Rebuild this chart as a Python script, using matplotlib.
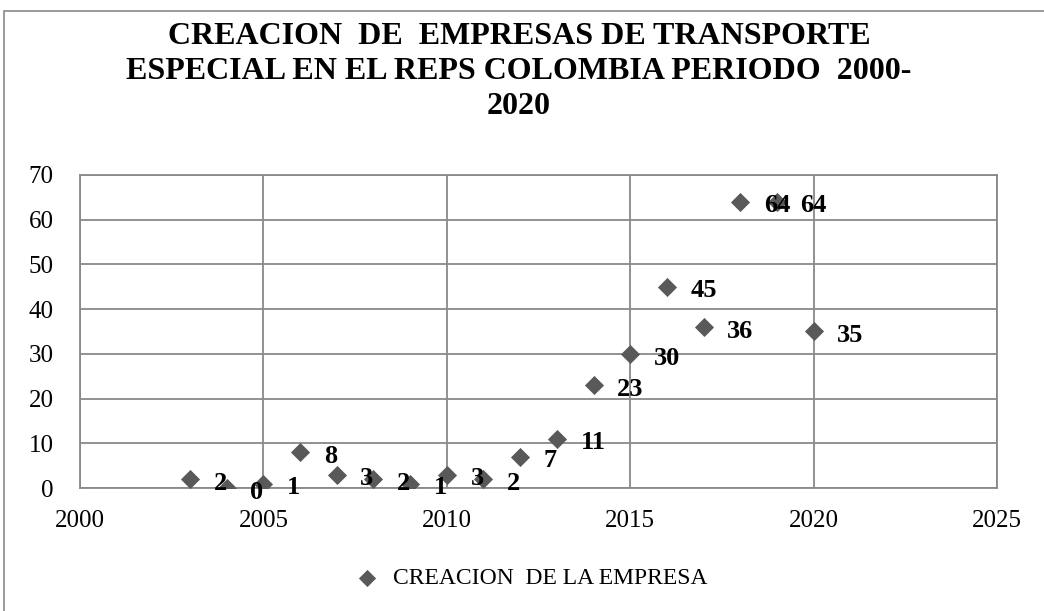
import matplotlib.pyplot as plt
from matplotlib.patches import Rectangle

# --- Data ---
years = [2003, 2004, 2005, 2006, 2007, 2008, 2009, 2010, 2011,
         2012, 2013, 2014, 2015, 2016, 2017, 2018, 2019, 2020]
empresas = [2, 0, 1, 8, 3, 2, 1, 3, 2, 7, 11, 23, 30, 45, 36, 64, 64, 35]

title = "CREACION  DE  EMPRESAS DE TRANSPORTE\nESPECIAL EN EL REPS COLOMBIA PERIODO  2000-\n2020"
serie = "CREACION  DE LA EMPRESA"

serif = 'Liberation Serif'
grid_color = '#898989'
marker_color = '#595959'

fig = plt.figure(figsize=(10.44, 6.11), dpi=100)
ax = fig.add_axes([0.0766, 0.2013, 0.8784, 0.5123])

ax.scatter(years, empresas, marker='D', s=95, color=marker_color,
           zorder=3, label=serie, linewidths=0)

for x, y in zip(years, empresas):
    ax.annotate(str(y), (x, y), xytext=(17, -3), textcoords='offset points',
                ha='left', va='center', fontsize=19, fontweight='bold',
                family=serif, zorder=4)

ax.set_xlim(2000, 2025)
ax.set_ylim(0, 70)
ax.set_xticks(range(2000, 2026, 5))
ax.set_yticks(range(0, 71, 10))
ax.grid(True, color=grid_color, linewidth=1.3)
ax.set_axisbelow(True)
for sp in ax.spines.values():
    sp.set_color(grid_color)
    sp.set_linewidth(1.3)
ax.tick_params(length=0, labelsize=18)
ax.tick_params(axis='x', pad=16)
ax.tick_params(axis='y', pad=19)
for lab in ax.get_xticklabels() + ax.get_yticklabels():
    lab.set_family(serif)

fig.text(0.497, 0.883, title, ha='center', va='center', fontsize=23,
         fontweight='bold', family=serif, linespacing=1.28)

fig.legend(loc='center', bbox_to_anchor=(0.503, 0.054), frameon=False,
           prop={'family': serif, 'size': 17}, handletextpad=0.1,
           markerscale=0.9)

# outer chart border
fig.patches.append(Rectangle((4 / 1044, -0.05), 1.1, 1 - 11 / 611 + 0.05,
                             transform=fig.transFigure, fill=False,
                             edgecolor='#8a8a8a', linewidth=1.2))

fig.savefig('out.png', dpi=100)
